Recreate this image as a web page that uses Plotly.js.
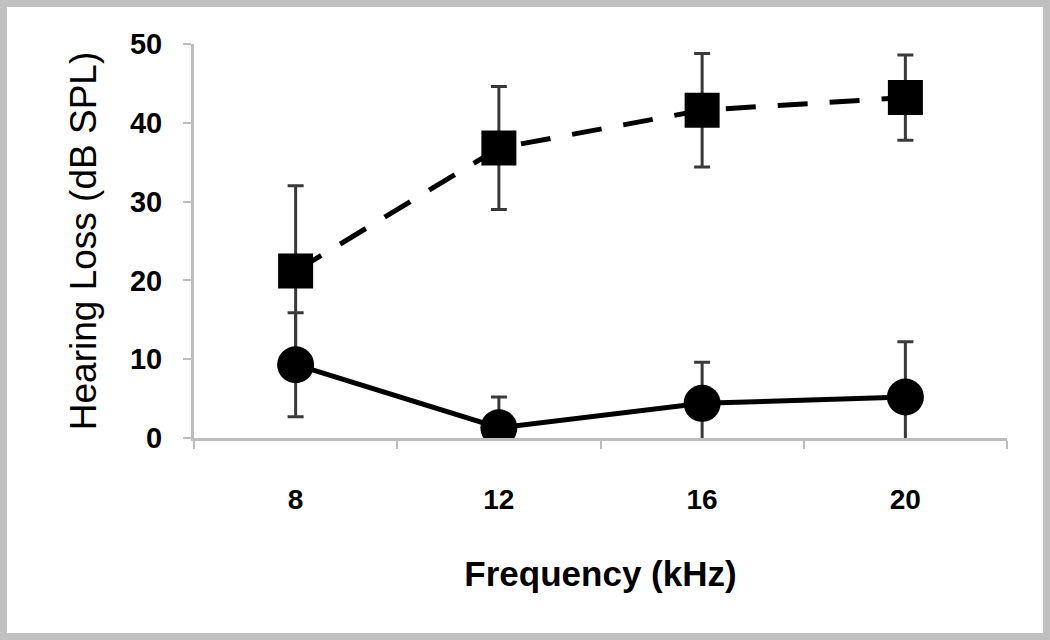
<!DOCTYPE html>
<html>
<head>
<meta charset="utf-8">
<script src="https://cdn.plot.ly/plotly-3.0.1.min.js"></script>
<style>
  html, body { margin: 0; padding: 0; background: #fff; }
  #plot { width: 1036px; height: 626px; border: 7px solid #c0c0c0; }
</style>
</head>
<body>
<div id="plot"></div>
<script>
// frequencies (kHz)
const freqs = ["8", "12", "16", "20"];

// dashed line, square markers
const squareLoss = [21.2, 36.8, 41.6, 43.2];
const squareErr = [10.8, 7.8, 7.2, 5.4];

// solid line, circle markers
const circleLoss = [9.3, 1.3, 4.4, 5.2];
const circleErr = [6.6, 3.9, 5.2, 7.0];

const errStyle = arr => ({
  type: "data",
  array: arr,
  visible: true,
  color: "#3a3a3a",
  thickness: 3,
  width: 8
});

const trace1 = {
  x: freqs,
  y: squareLoss,
  error_y: errStyle(squareErr),
  mode: "lines+markers",
  type: "scatter",
  line: { color: "#000", width: 5, dash: "30px,22px" },
  marker: { symbol: "square", size: 35, color: "#000" }
};

const trace2 = {
  x: freqs,
  y: circleLoss,
  error_y: errStyle(circleErr),
  mode: "lines+markers",
  type: "scatter",
  line: { color: "#000", width: 5 },
  marker: { symbol: "circle", size: 37, color: "#000" }
};

const fontFam = "'Liberation Sans', Arial, sans-serif";

const layout = {
  width: 1036,
  height: 626,
  margin: { l: 187, r: 36, t: 37, b: 195 },
  showlegend: false,
  paper_bgcolor: "#fff",
  plot_bgcolor: "#fff",
  font: { family: fontFam, color: "#000" },
  xaxis: {
    type: "category",
    range: [-0.5, 3.5],
    tickson: "boundaries",
    ticks: "outside",
    ticklen: 8,
    tickwidth: 2,
    tickcolor: "#bdbdbd",
    showline: true,
    linecolor: "#bdbdbd",
    linewidth: 3,
    showgrid: false,
    zeroline: false,
    ticklabelstandoff: 34,
    tickfont: { size: 28, family: fontFam, weight: "bold" },
    title: { text: "<b>Frequency (kHz)</b>", font: { size: 35, family: fontFam }, standoff: 48 }
  },
  yaxis: {
    range: [0, 50],
    tickvals: [0, 10, 20, 30, 40, 50],
    ticks: "outside",
    ticklen: 8,
    tickwidth: 2,
    tickcolor: "#bdbdbd",
    showline: true,
    linecolor: "#bdbdbd",
    linewidth: 3,
    showgrid: false,
    zeroline: false,
    ticklabelstandoff: 15,
    tickfont: { size: 29, family: fontFam, weight: "bold" },
    title: { text: "Hearing Loss (dB SPL)", font: { size: 37, family: fontFam }, standoff: 22 }
  }
};

Plotly.newPlot("plot", [trace1, trace2], layout, { staticPlot: true });
</script>
</body>
</html>
